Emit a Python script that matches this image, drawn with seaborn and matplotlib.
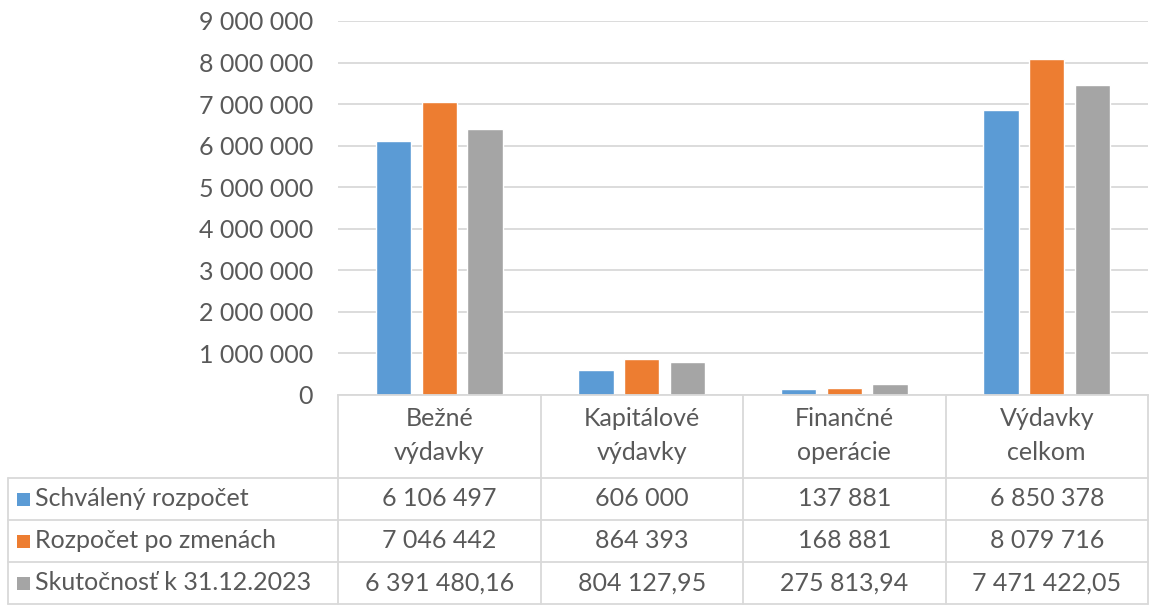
import matplotlib
matplotlib.use("Agg")
import matplotlib.pyplot as plt
import matplotlib.transforms as mtransforms
from matplotlib.patches import Rectangle
from matplotlib.ticker import FuncFormatter, MultipleLocator
import seaborn as sns
import pandas as pd

categories = ["Bežné\nvýdavky", "Kapitálové\nvýdavky", "Finančné\noperácie", "Výdavky\ncelkom"]
series_names = ["Schválený rozpočet", "Rozpočet po zmenách", "Skutočnosť k 31.12.2023"]
schvaleny = [6106497, 606000, 137881, 6850378]
po_zmenach = [7046442, 864393, 168881, 8079716]
skutocnost = [6391480.16, 804127.95, 275813.94, 7471422.05]
colors = ["#5B9BD5", "#ED7D31", "#A5A5A5"]

series_values = [schvaleny, po_zmenach, skutocnost]
rows = []
for name, vals in zip(series_names, series_values):
    for c, v in zip(categories, vals):
        rows.append({"cat": c, "series": name, "value": v})
df = pd.DataFrame(rows)

sns.set_theme(style="white")
plt.rcParams["font.family"] = ["Lato", "DejaVu Sans"]
TXT = "#595959"
GRID = "#D9D9D9"
FS = 18

W, H = 1151, 607
fig = plt.figure(figsize=(W / 100, H / 100), dpi=100)
fig.patch.set_facecolor("white")

# main plot axes: x 338..1148 px, y 21..395 px
ax = fig.add_axes([338 / W, (H - 395) / H, 810 / W, 374 / H])
sns.barplot(data=df, x="cat", y="value", hue="series", order=categories,
            hue_order=series_names, palette=colors, width=0.68, gap=0.23,
            saturation=1, legend=False, ax=ax, errorbar=None)
ax.set_xlim(-0.5, len(categories) - 0.5)
ax.set_ylim(0, 9000000)
ax.yaxis.set_major_locator(MultipleLocator(1000000))
ax.yaxis.set_major_formatter(FuncFormatter(lambda v, p: f"{v:,.0f}".replace(",", " ")))
ax.grid(axis="y", color=GRID, linewidth=1.3)
ax.set_axisbelow(True)
for s in ["top", "right", "left"]:
    ax.spines[s].set_visible(False)
ax.spines["bottom"].set_color(GRID)
ax.spines["bottom"].set_linewidth(1.3)
ax.set_xlabel("")
ax.set_ylabel("")
ax.set_xticks([])
ax.tick_params(axis="y", length=0, pad=18, labelsize=FS, labelcolor=TXT)

# table overlay axes in pixel coordinates
tax = fig.add_axes([0, 0, 1, 1])
tax.set_xlim(0, W)
tax.set_ylim(H, 0)
tax.axis("off")
tax.set_zorder(-1)
blend = mtransforms.blended_transform_factory(ax.transData, tax.transData)

n = len(categories)
row_tops = [478, 520, 562]
row_bot = 604
for i in range(n + 1):
    tax.plot([i - 0.5, i - 0.5], [395, row_bot], color=GRID, lw=1.3, transform=blend)
x_left = 8
for y in row_tops + [row_bot]:
    tax.plot([x_left, 1148], [y, y], color=GRID, lw=1.3)
tax.plot([x_left, x_left], [row_tops[0], row_bot], color=GRID, lw=1.3)

for i, c in enumerate(categories):
    top, bot = c.split("\n")
    tax.text(i, 419, top, transform=blend, ha="center", va="center", fontsize=FS, color=TXT)
    tax.text(i, 453, bot, transform=blend, ha="center", va="center", fontsize=FS, color=TXT)


def fmt(v):
    if float(v).is_integer():
        return f"{v:,.0f}".replace(",", " ")
    return f"{v:,.2f}".replace(",", " ").replace(".", ",")


for r, (name, vals, col) in enumerate(zip(series_names, series_values, colors)):
    yc = (row_tops[r] + (row_tops[r + 1] if r + 1 < len(row_tops) else row_bot)) / 2
    tax.add_patch(Rectangle((17, yc - 6), 13, 13, color=col, lw=0))
    tax.text(35, yc, name, ha="left", va="center", fontsize=FS, color=TXT)
    for i, v in enumerate(vals):
        tax.text(i, yc, fmt(v), transform=blend, ha="center", va="center", fontsize=FS, color=TXT)

fig.savefig("out.png", dpi=100)
